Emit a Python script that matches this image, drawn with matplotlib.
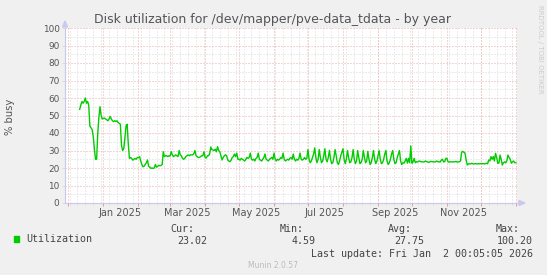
import numpy as np
import pandas as pd
import matplotlib
matplotlib.use('Agg')
import matplotlib.pyplot as plt
import matplotlib.dates as mdates
import matplotlib.transforms as mtransforms
from matplotlib.patches import Rectangle, Polygon

W, H = 547, 275

# daily values, % busy (nan = no data yet)
nan = np.nan
dec_2024 = [nan] * 10 + [53.5, 56, 58, 57, 58, 60, 57, 58, 56, 44, 43, 42, 38, 31, 25, 25, 40, 49, 55, 50, 48]
jan_2025 = [48.4, 48.5, 48, 47.5, 47, 48, 49.5, 48, 47, 46.5, 47, 46.5, 47, 46, 45.5, 45, 33, 30, 31, 37,
            44, 45, 34, 25.5, 26, 25.5, 24.5, 25, 25.5, 25, 26]
feb_2025 = [26, 26.5, 24, 22, 20.7, 21, 22, 23, 24.6, 21, 20.5, 19.8, 20, 19.8, 20, 22, 20.5, 21, 21.5, 21.3,
            21.5, 22, 29.3, 26.5, 27, 27, 26.5, 27]
mar_2025 = [26.8, 29.3, 27.5, 26.5, 27, 27.5, 27, 26.5, 30, 27.5, 27, 25.5, 25, 25.5, 26.5, 27, 27.5, 27,
            27.5, 27.5, 27.5, 28.2, 30, 27, 26.5, 26, 26, 26.5, 27, 27, 29.3]
apr_2025 = [26, 25.7, 27, 27, 28, 32, 30.5, 30.3, 30, 30.7, 29.3, 32.2, 30, 29.3, 27, 24.6, 26, 27, 27.5, 27,
            24.6, 24, 23.6, 24.5, 26, 26.5, 28, 26.5, 28.5, 25]
may_2025 = [25, 24.5, 25.5, 25, 24.5, 24, 25, 26, 25.5, 26, 28.5, 25, 24.5, 25, 24, 25.5, 26, 28.5, 25, 24.5,
            24, 25, 26, 28, 25, 24.5, 24, 25, 25.5, 26, 25]
jun_2025 = [28.5, 25, 24, 25, 24.5, 25, 26, 25.5, 28.5, 25, 24, 24.5, 25, 24.5, 25.5, 26, 25, 28, 25, 24,
            25, 24.5, 25.5, 28.5, 25, 24.5, 25, 26, 25, 25.5]
jul_2025 = [30.5, 25, 23, 24, 26, 28, 31.5, 26, 23, 25, 30.5, 26, 23, 24, 27, 31, 25, 23.5, 26, 30,
            25, 22.5, 23, 26, 30.5, 27, 23, 22, 24, 27, 29]
aug_2025 = [31, 25, 22.5, 25, 30, 26, 23, 23.5, 26, 30.5, 25, 22.5, 24, 30, 26, 22.5, 23, 25, 30, 26,
            23, 24, 29.5, 25, 22, 23, 26, 30, 25, 22.5, 24]
sep_2025 = [27, 30, 25, 22.5, 23, 25, 28, 30, 24, 22, 23, 25, 28, 30, 25, 22.5, 23, 26, 28, 30,
            24, 22, 23, 22.8, 24, 25.5, 22.8, 25.5, 23, 32.6]
oct_2025 = [22.7, 23.5, 25.5, 23, 23.6, 23.4, 23.8, 24, 23.5, 23.6, 23.4, 23.5, 24, 23.6, 23.5, 23.2, 23.6, 23.8,
            23.5, 23.6, 23.4, 23.6, 24, 23.5, 23.6, 23.4, 24.5, 25, 23.5, 23.6, 25.5]
nov_2025 = [25.5, 23.5, 23.4, 23.6, 23.5, 23.4, 23.6, 23.5, 23.8, 23.4, 23.5, 23.6, 24, 29, 29.5, 29, 28.5, 24.6,
            21.7, 22.3, 22.5, 22.3, 22.7, 22.4, 22.3, 22.5, 22.4, 22.3, 22.5, 22.4]
dec_2025 = [22.5, 22.4, 22.6, 22.3, 22.5, 22.7, 22.4, 24.6, 24, 26.5, 25, 26.5, 24, 28.4, 26, 22.7, 22.8,
            27.4, 25, 21.7, 23, 23.5, 23, 24, 27.4, 26, 25, 22.7, 23.5, 24, 23]
jan_2026 = [23.02]

util = np.array(dec_2024 + jan_2025 + feb_2025 + mar_2025 + apr_2025 + may_2025 + jun_2025 + jul_2025
                + aug_2025 + sep_2025 + oct_2025 + nov_2025 + dec_2025 + jan_2026, dtype=float)
days = pd.date_range('2024-12-01', periods=len(util), freq='D')

label_months = ['Jan 2025', 'Mar 2025', 'May 2025', 'Jul 2025', 'Sep 2025', 'Nov 2025']
label_dates = ['2025-01-16', '2025-03-16', '2025-05-16', '2025-07-16', '2025-09-16', '2025-11-16']
y_ticks = list(range(0, 101, 10))

t_end = pd.Timestamp('2026-01-02 00:05:05')
t_start = t_end - pd.Timedelta(days=400)

BG = '#f0f0f0'
TXT = '#555555'
AXIS = '#c8c8f0'
MINOR = '#d8d8d8'
MAJOR = '#f0aaaa'

fig = plt.figure(figsize=(W / 100, H / 100), dpi=100, facecolor=BG)


def fx(px):
    return px / W


def fy(py):
    return 1 - py / H


ax = fig.add_axes([fx(65), fy(203), (517 - 65) / W, (203 - 28) / H])
ax.set_facecolor('white')
ax.set_xlim(mdates.date2num(t_start), mdates.date2num(t_end))
ax.set_ylim(0, 100)

dot = (0, (1, 2))
# horizontal grid
for v in range(5, 101, 10):
    ax.axhline(v, color=MINOR, lw=0.72, ls=dot, zorder=1)
for v in range(10, 101, 10):
    ax.axhline(v, color=MAJOR, lw=0.72, ls=dot, zorder=1.5)
# vertical grid: weeks and months
months = pd.date_range('2024-12-01', '2026-01-01', freq='MS')
weeks = pd.date_range(t_start, t_end, freq='W-MON')
for d in weeks:
    ax.axvline(mdates.date2num(d), color=MINOR, lw=0.72, ls=dot, zorder=1)
for d in months:
    ax.axvline(mdates.date2num(d), color=MAJOR, lw=0.72, ls=dot, zorder=1.5)

ax.plot(mdates.date2num(days), util, color='#00cc00', lw=1.0, zorder=3)

for s in ['top', 'right']:
    ax.spines[s].set_visible(False)
for s in ['left', 'bottom']:
    ax.spines[s].set_color(AXIS)
    ax.spines[s].set_linewidth(0.8)

ax.set_yticks(y_ticks)
ax.set_yticklabels([str(v) for v in y_ticks], color=TXT, fontsize=6.4)
ax.tick_params(axis='y', length=2, width=0.6, color=MINOR, pad=2)

ax.set_xticks(mdates.date2num(months))
ax.set_xticklabels([])
ax.tick_params(axis='x', which='major', length=2.5, width=0.6, color='#e88888')
ax.set_xticks(mdates.date2num(weeks), minor=True)
ax.tick_params(axis='x', which='minor', length=1.5, width=0.5, color=MINOR)

lab_tr = mtransforms.blended_transform_factory(ax.transData, fig.transFigure)
for lab, d in zip(label_months, label_dates):
    ax.text(mdates.date2num(pd.Timestamp(d)), fy(212.5), lab, transform=lab_tr,
            ha='center', va='center', color=TXT, fontsize=7)

# axis arrows
fig.patches.append(Polygon([[fx(62.5), fy(27)], [fx(67.5), fy(27)], [fx(65), fy(21)]], closed=True,
                           transform=fig.transFigure, color=AXIS))
fig.patches.append(Polygon([[fx(519), fy(200.5)], [fx(519), fy(205.5)], [fx(525), fy(203)]], closed=True,
                           transform=fig.transFigure, color=AXIS))
fig.add_artist(plt.Line2D([fx(517), fx(520)], [fy(203), fy(203)], color=AXIS, lw=0.8))

fig.text(fx(273), fy(20), 'Disk utilization for /dev/mapper/pve-data_tdata - by year', ha='center', va='center',
         color=TXT, fontsize=9)
fig.text(fx(10), fy(117), '% busy', rotation=90, ha='center', va='center', color=TXT, fontsize=7.2)
fig.text(fx(540), fy(5), 'RRDTOOL / TOBI OETIKER', rotation=270, ha='center', va='top', color='#cccccc',
         fontsize=5)

mono = 'DejaVu Sans Mono'
LEG = '#444444'
fig.patches.append(Rectangle((fx(14), fy(242)), 5 / W, 6 / H, transform=fig.transFigure, color='#00cc00'))
fig.text(fx(26), fy(239.5), 'Utilization', family=mono, fontsize=7.2, color=LEG, va='center')
for head, val, hx, vx in [('Cur:', '23.02', 194, 207), ('Min:', '4.59', 304, 316),
                          ('Avg:', '27.75', 412, 424), ('Max:', '100.20', 520, 533)]:
    fig.text(fx(hx), fy(229), head, family=mono, fontsize=7.2, color=LEG, ha='right', va='center')
    fig.text(fx(vx), fy(241.5), val, family=mono, fontsize=7.2, color=LEG, ha='right', va='center')
fig.text(fx(533), fy(254), 'Last update: Fri Jan  2 00:05:05 2026', family=mono, fontsize=7.2, color=LEG,
         ha='right', va='center')
fig.text(fx(273), fy(266), 'Munin 2.0.57', fontsize=5.5, color='#bbbbbb', ha='center', va='center')

fig.savefig('out.png', dpi=100, facecolor=BG)
